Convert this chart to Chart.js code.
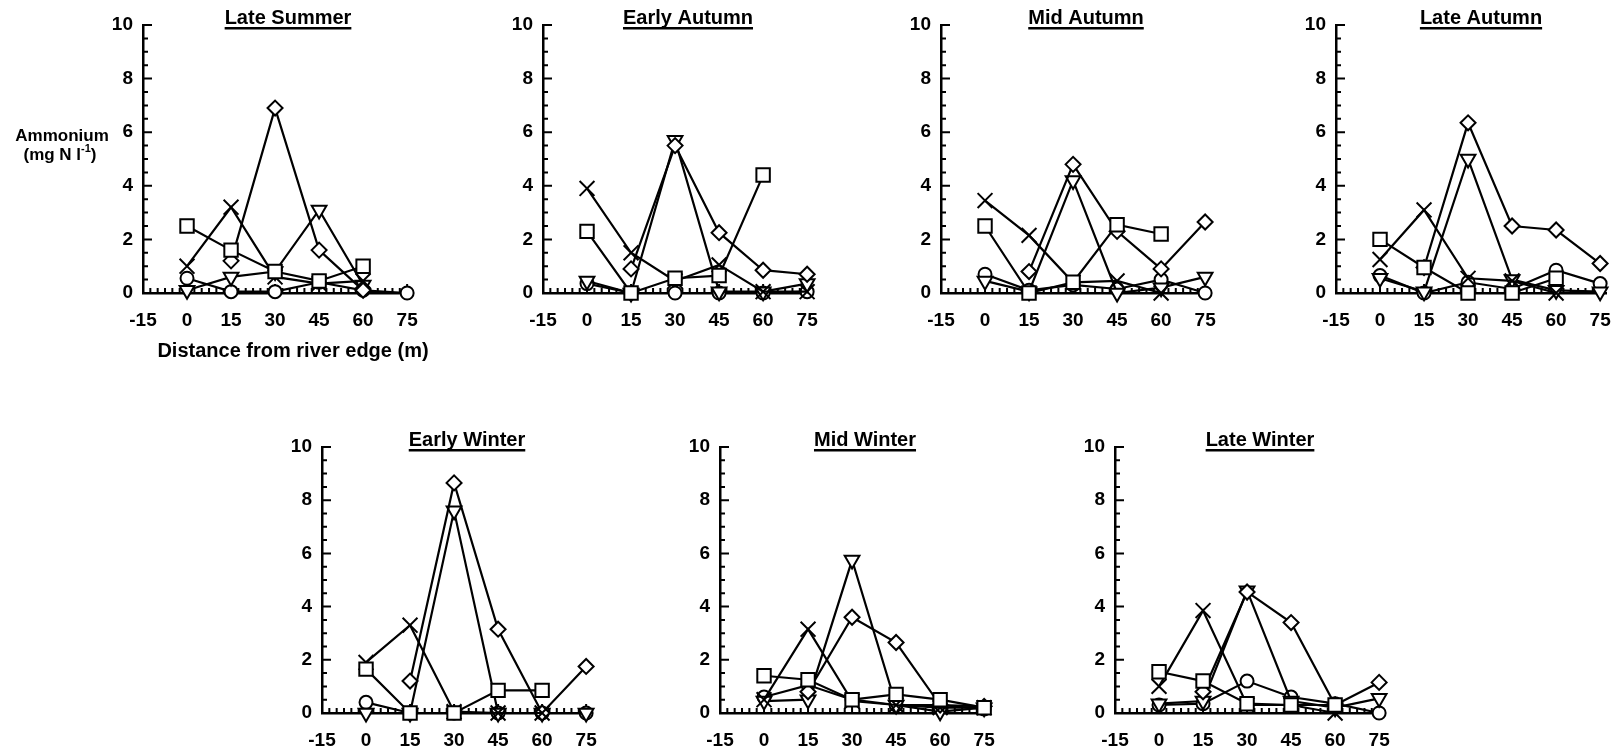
<!DOCTYPE html>
<html><head><meta charset="utf-8">
<script src="https://cdn.jsdelivr.net/npm/chart.js@4/dist/chart.umd.min.js"></script>
<style>
html,body{margin:0;padding:0;background:#fff;width:1618px;height:753px;overflow:hidden;position:relative}
canvas{position:absolute}
</style></head><body>
<canvas id="p0"></canvas><canvas id="p1"></canvas><canvas id="p2"></canvas><canvas id="p3"></canvas>
<canvas id="p4"></canvas><canvas id="p5"></canvas><canvas id="p6"></canvas>
<script>
// ---- data ----
const distances = [0, 15, 30, 45, 60, 75];
const xTickValues = [-15, 0, 15, 30, 45, 60, 75];
const yTickValues = [0, 2, 4, 6, 8, 10];
const panelTitles = ['Late Summer', 'Early Autumn', 'Mid Autumn', 'Late Autumn', 'Early Winter', 'Mid Winter', 'Late Winter'];
const seriesMarkers = ['square', 'cross', 'diamond', 'triangle', 'circle'];
const yAxisLabel = ['Ammonium', '(mg N l', '-1', ')'];
const xAxisLabel = 'Distance from river edge (m)';

// rows: square, cross, diamond, triangle, circle ; columns: distances
const lateSummer = [
  [2.5, 1.6, 0.8, 0.45, 1.0, null],
  [1.0, 3.2, 0.6, 0.35, 0.45, null],
  [null, 1.2, 6.9, 1.6, 0.1, null],
  [0.1, 0.6, 0.8, 3.1, 0.3, null],
  [0.55, 0.05, 0.05, 0.4, 0.1, 0.0]
];
const earlyAutumn = [
  [2.3, 0.0, 0.55, 0.65, 4.4, null],
  [3.9, 1.5, 0.45, 1.05, 0.05, 0.05],
  [null, 0.9, 5.5, 2.25, 0.85, 0.7],
  [0.45, 0.0, 5.7, 0.05, 0.05, 0.35],
  [0.35, 0.0, 0.0, 0.0, 0.0, 0.05]
];
const midAutumn = [
  [2.5, 0.0, 0.4, 2.55, 2.2, null],
  [3.45, 2.15, 0.4, 0.45, 0.0, null],
  [null, 0.8, 4.8, 2.3, 0.9, 2.65],
  [0.45, 0.05, 4.2, 0.0, 0.2, 0.6],
  [0.7, 0.1, 0.3, 0.15, 0.5, 0.0]
];
const lateAutumn = [
  [2.0, 0.95, 0.0, 0.0, 0.55, null],
  [1.25, 3.1, 0.55, 0.45, 0.0, null],
  [null, 0.95, 6.35, 2.5, 2.35, 1.1],
  [0.55, 0.05, 5.0, 0.5, 0.1, 0.05],
  [0.65, 0.0, 0.4, 0.15, 0.85, 0.35]
];
const earlyWinter = [
  [1.65, 0.0, 0.0, 0.85, 0.85, null],
  [1.9, 3.3, 0.05, 0.0, 0.0, null],
  [null, 1.2, 8.65, 3.15, 0.0, 1.75],
  [0.0, 0.0, 7.6, 0.0, 0.0, 0.0],
  [0.4, 0.0, 0.0, 0.0, 0.0, 0.0]
];
const midWinter = [
  [1.4, 1.25, 0.5, 0.7, 0.5, 0.2],
  [0.5, 3.15, 0.45, 0.3, 0.2, 0.2],
  [null, 0.8, 3.6, 2.65, 0.3, 0.25],
  [0.45, 0.5, 5.75, 0.3, 0.05, 0.2],
  [0.6, 1.05, 0.5, 0.3, 0.3, 0.15]
];
const lateWinter = [
  [1.55, 1.2, 0.35, 0.3, 0.3, null],
  [1.0, 3.85, 0.3, 0.3, 0.0, null],
  [null, 0.8, 4.55, 3.4, 0.3, 1.15],
  [0.35, 0.45, 4.6, 0.45, 0.2, 0.55],
  [0.3, 0.35, 1.2, 0.6, 0.35, 0.0]
];
const panelValues = [lateSummer, earlyAutumn, midAutumn, lateAutumn, earlyWinter, midWinter, lateWinter];

// ---- layout & style ----
const FONT = '"Liberation Sans", Arial, Helvetica, sans-serif';
const X_MIN = -15, X_MAX = 77, Y_MIN = 0, Y_MAX = 10;
const Y_MINOR = 0.5, X_MINOR = 2.5;
const PLOT_W = 270;
const PAD_R = 28;
const layouts = [
  {axisX: 143, top: 0, padT: 25, plotH: 268, xH: 75, yW: 143},
  {axisX: 543, top: 0, padT: 25, plotH: 268, xH: 40, yW: 60},
  {axisX: 941, top: 0, padT: 25, plotH: 268, xH: 40, yW: 60},
  {axisX: 1336, top: 0, padT: 25, plotH: 268, xH: 40, yW: 60},
  {axisX: 322, top: 422, padT: 25, plotH: 266, xH: 40, yW: 60},
  {axisX: 720, top: 422, padT: 25, plotH: 266, xH: 40, yW: 60},
  {axisX: 1115, top: 422, padT: 25, plotH: 266, xH: 40, yW: 60}
];
const markerStyles = {
  square:   {pointStyle: 'rect', pointRadius: 9.5, pointRotation: 0},
  cross:    {pointStyle: 'crossRot', pointRadius: 10.5, pointRotation: 0},
  diamond:  {pointStyle: 'rectRot', pointRadius: 7.5, pointRotation: 0},
  triangle: {pointStyle: 'triangle', pointRadius: 8.5, pointRotation: 180},
  circle:   {pointStyle: 'circle', pointRadius: 6.5, pointRotation: 0}
};

const deco = {
  id: 'deco',
  beforeDatasetsDraw(chart) {
    const {ctx, chartArea: a, scales: {x, y}} = chart;
    ctx.save();
    ctx.strokeStyle = '#000';
    ctx.lineWidth = 2;
    ctx.beginPath();
    for (let v = Y_MIN; v <= Y_MAX + 1e-6; v += Y_MINOR) {
      const py = y.getPixelForValue(v);
      const major = Math.abs(v / 2 - Math.round(v / 2)) < 1e-6;
      ctx.moveTo(a.left, py); ctx.lineTo(a.left + (major ? 9 : 5), py);
    }
    for (let v = xTickValues[0]; v <= xTickValues[xTickValues.length - 1] + 1e-6; v += X_MINOR) {
      const px = x.getPixelForValue(v);
      const major = Math.abs(v / 15 - Math.round(v / 15)) < 1e-6;
      ctx.moveTo(px, a.bottom); ctx.lineTo(px, a.bottom - (major ? 9 : 5));
    }
    ctx.stroke();
    ctx.restore();
  },
  afterDraw(chart, args, opts) {
    const {ctx, chartArea: a} = chart;
    ctx.save();
    ctx.fillStyle = '#000';
    ctx.font = 'bold 20px ' + FONT;
    ctx.textAlign = 'center';
    ctx.textBaseline = 'alphabetic';
    const cx = a.left + 145;
    ctx.fillText(opts.title, cx, a.top - 1);
    const w = ctx.measureText(opts.title).width;
    ctx.fillRect(cx - w / 2, a.top + 2, w, 2.5);
    if (opts.axisLabels) {
      ctx.font = 'bold 17px ' + FONT;
      ctx.fillText(yAxisLabel[0], 62, 141);
      const big = 'bold 17px ' + FONT, small = 'bold 11px ' + FONT;
      ctx.font = big; const w1 = ctx.measureText(yAxisLabel[1]).width; const w3 = ctx.measureText(yAxisLabel[3]).width;
      ctx.font = small; const w2 = ctx.measureText(yAxisLabel[2]).width;
      let sx = 60 - (w1 + w2 + w3) / 2;
      ctx.textAlign = 'left';
      ctx.font = big; ctx.fillText(yAxisLabel[1], sx, 160); sx += w1;
      ctx.font = small; ctx.fillText(yAxisLabel[2], sx, 152); sx += w2;
      ctx.font = big; ctx.fillText(yAxisLabel[3], sx, 160);
      ctx.textAlign = 'center';
      ctx.font = 'bold 20px ' + FONT;
      ctx.fillText(xAxisLabel, a.left + 150, 357);
    }
    ctx.restore();
  }
};

panelValues.forEach((values, k) => {
  const L = layouts[k];
  const cv = document.getElementById('p' + k);
  const cw = L.yW + PLOT_W + PAD_R;
  const ch = L.padT + L.plotH + L.xH;
  cv.width = cw; cv.height = ch;
  cv.style.width = cw + 'px'; cv.style.height = ch + 'px';
  cv.style.left = (L.axisX - L.yW) + 'px';
  cv.style.top = L.top + 'px';
  const datasets = seriesMarkers.map((m, i) => Object.assign({
    label: m,
    data: distances.map((d, j) => ({x: d, y: values[i][j]})),
    borderColor: '#000',
    borderWidth: 2.2,
    pointBackgroundColor: '#fff',
    pointBorderColor: '#000',
    pointBorderWidth: 2,
    tension: 0,
    fill: false,
    clip: false,
    spanGaps: false
  }, markerStyles[m]));
  const tickFont = {size: 19, weight: 'bold', family: FONT};
  new Chart(cv, {
    type: 'line',
    data: {datasets},
    options: {
      responsive: false,
      animation: false,
      devicePixelRatio: 1,
      layout: {padding: {top: L.padT, right: PAD_R, left: 0, bottom: 0}},
      plugins: {
        legend: {display: false},
        tooltip: {enabled: false},
        title: {display: false},
        deco: {title: panelTitles[k], axisLabels: k === 0}
      },
      scales: {
        x: {
          type: 'linear', min: X_MIN, max: X_MAX,
          afterFit(s) { s.height = L.xH; },
          afterBuildTicks(s) { s.ticks = xTickValues.map(v => ({value: v})); },
          grid: {display: false, drawTicks: false},
          border: {display: true, color: '#000', width: 2.5},
          ticks: {color: '#000', font: tickFont, padding: 16, maxRotation: 0, autoSkip: false}
        },
        y: {
          type: 'linear', min: Y_MIN, max: Y_MAX,
          afterFit(s) { s.width = L.yW; },
          afterBuildTicks(s) { s.ticks = yTickValues.map(v => ({value: v})); },
          grid: {display: false, drawTicks: false},
          border: {display: true, color: '#000', width: 2.5},
          ticks: {color: '#000', font: tickFont, padding: 10}
        }
      }
    },
    plugins: [deco]
  });
});
</script>
</body></html>
